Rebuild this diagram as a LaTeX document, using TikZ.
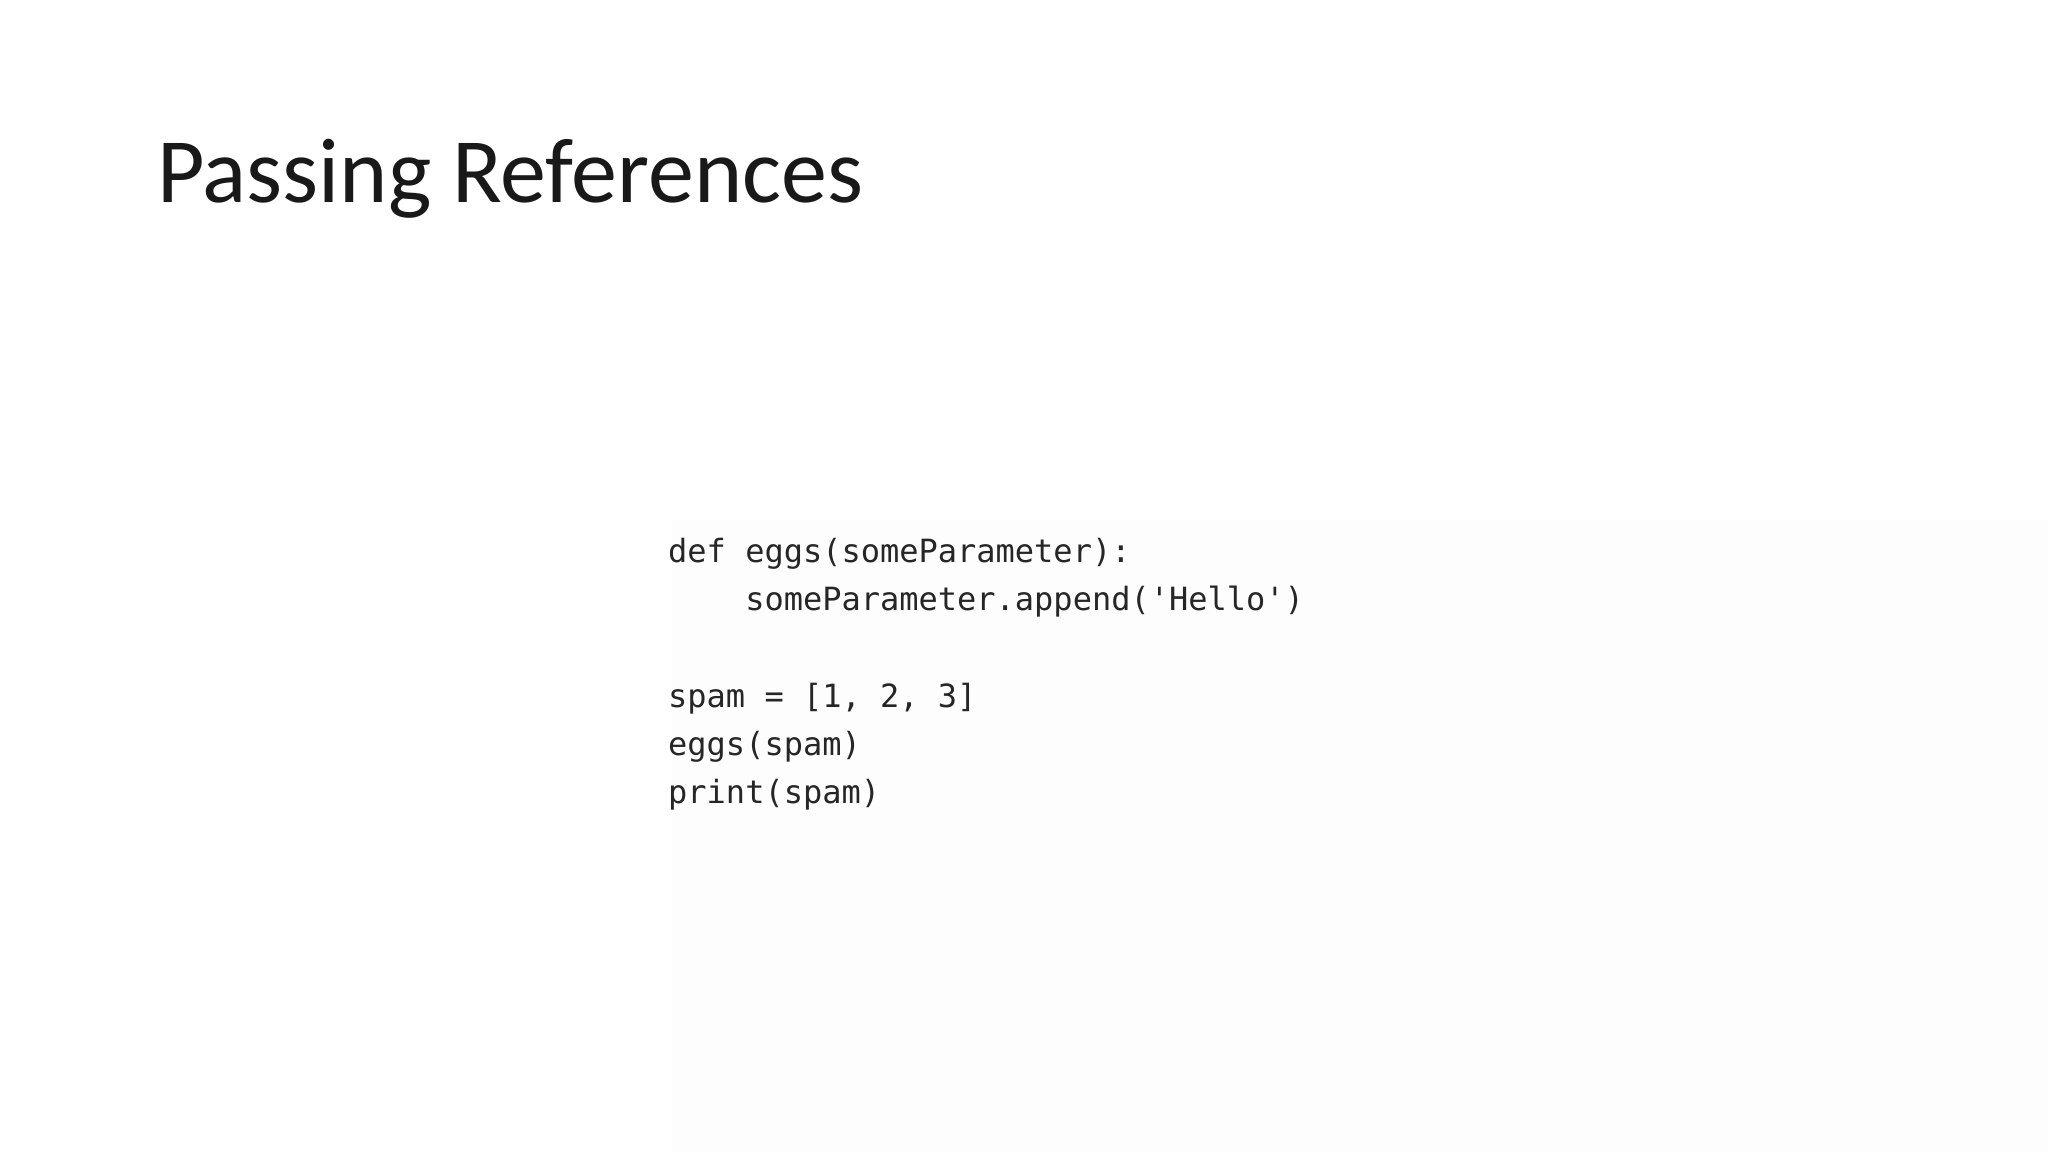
\documentclass[tikz,border=0pt]{standalone}
\usepackage{fontspec}
\setmainfont{Carlito}
\newfontfamily\codefont{DejaVu Sans Mono}
\begin{document}
\begin{tikzpicture}[x=1pt,y=-1pt,
  code/.style={anchor=base west,inner sep=0pt,font=\codefont\fontsize{32}{36}\selectfont,text=black!85}]
\useasboundingbox (0,0) rectangle (2048,1152);
\fill[white] (0,0) rectangle (2048,1152);
\fill[black!0.8] (672,520) rectangle (2048,1152);
\node[anchor=base west,inner sep=0pt,font=\fontsize{92}{110}\selectfont,text=black!90] (title) at (157,202) {Passing References};
\node[code] (l1) at (668,562) {def eggs(someParameter):};
\node[code] (l2) at (668,610) {\ \ \ \ someParameter.append('Hello')};
\node[code] (l3) at (668,707) {spam = [1, 2, 3]};
\node[code] (l4) at (668,755) {eggs(spam)};
\node[code] (l5) at (668,803) {print(spam)};
\end{tikzpicture}
\end{document}
